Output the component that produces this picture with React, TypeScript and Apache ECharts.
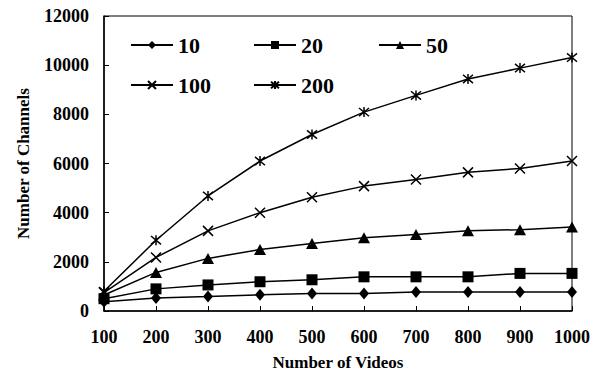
import React, { useEffect, useRef } from "react";
import * as echarts from "echarts";

const videos = [100, 200, 300, 400, 500, 600, 700, 800, 900, 1000];
const s10 = [380, 530, 590, 660, 710, 710, 770, 770, 770, 770];
const s20 = [500, 900, 1060, 1190, 1270, 1390, 1390, 1390, 1530, 1530];
const s50 = [650, 1570, 2140, 2500, 2750, 2980, 3110, 3260, 3310, 3420];
const s100 = [750, 2180, 3260, 4000, 4630, 5080, 5350, 5640, 5800, 6100];
const s200 = [800, 2880, 4680, 6100, 7180, 8090, 8770, 9440, 9880, 10310];
const seriesNames = ["10", "20", "50", "100", "200"];

const FONT = "Liberation Serif";
const CROSS = "path://M0,0L10,10M10,0L0,10";
const STAR = "path://M0,0L10,10M10,0L0,10M5,-1L5,11";

const legendPos = [
  [130, 34],
  [253, 34],
  [378, 34],
  [130, 74],
  [253, 74],
];

export default function App() {
  const ref = useRef<HTMLDivElement>(null);
  useEffect(() => {
    if (!ref.current) return;
    const chart = echarts.init(ref.current, undefined, { renderer: "svg" });
    const mk = (name: string, vals: number[], symbol: string, size: any, stroke: boolean) => ({
      name,
      type: "line",
      data: videos.map((v, i) => [v, vals[i]]),
      symbol,
      symbolSize: size,
      showAllSymbol: true,
      lineStyle: { color: "#000", width: 1.5 },
      itemStyle: stroke
        ? { color: "rgba(0,0,0,0)", borderColor: "#000", borderWidth: 1.5 }
        : { color: "#000", borderWidth: 0 },
      z: 3,
    });
    const legendText = { fontFamily: FONT, fontWeight: "bold", fontSize: 22, color: "#000" };
    chart.setOption({
      animation: false,
      backgroundColor: "#fff",
      textStyle: { fontFamily: FONT },
      grid: { left: 104, right: 25, top: 16, bottom: 63, show: true, borderColor: "#000", borderWidth: 1, backgroundColor: "transparent" },
      legend: seriesNames.map((n, i) => ({
        data: [n],
        left: legendPos[i][0],
        top: legendPos[i][1],
        padding: 0,
        itemWidth: 42,
        itemHeight: 10,
        itemGap: 7,
        textStyle: legendText,
        selectedMode: false,
      })),
      xAxis: {
        type: "value",
        min: 100,
        max: 1000,
        interval: 100,
        name: "Number of Videos",
        nameLocation: "middle",
        nameGap: 43,
        nameTextStyle: { fontFamily: FONT, fontWeight: "bold", fontSize: 17, color: "#000" },
        axisLine: { show: true, lineStyle: { color: "#000", width: 1.5 } },
        axisTick: { show: true, inside: true, length: 5, lineStyle: { color: "#000", width: 1 } },
        axisLabel: { fontFamily: FONT, fontWeight: "bold", fontSize: 18, color: "#000", margin: 17, formatter: (v: number) => String(v) },
        splitLine: { show: false },
      },
      yAxis: {
        type: "value",
        min: 0,
        max: 12000,
        interval: 2000,
        name: "Number of Channels",
        nameLocation: "middle",
        nameGap: 72,
        nameRotate: 90,
        nameTextStyle: { fontFamily: FONT, fontWeight: "bold", fontSize: 17, color: "#000" },
        axisLine: { show: true, lineStyle: { color: "#000", width: 1.5 } },
        axisTick: { show: true, inside: true, length: 5, lineStyle: { color: "#000", width: 1 } },
        axisLabel: { fontFamily: FONT, fontWeight: "bold", fontSize: 18, color: "#000", margin: 15, formatter: (v: number) => String(v) },
        splitLine: { show: false },
      },
      series: [
        mk("10", s10, "diamond", [10, 12], false),
        mk("20", s20, "rect", 11, false),
        mk("50", s50, "triangle", [12, 11], false),
        mk("100", s100, CROSS, 10, true),
        mk("200", s200, STAR, 10, true),
      ],
    });
    return () => chart.dispose();
  }, []);
  return <div ref={ref} style={{ position: "absolute", left: 0, top: 0, width: 597, height: 376 }} />;
}
